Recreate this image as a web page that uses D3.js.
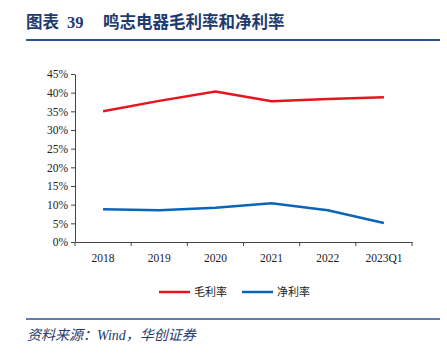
<!DOCTYPE html>
<html>
<head>
<meta charset="utf-8">
<script src="https://cdn.jsdelivr.net/npm/d3@7"></script>
<style>
  body { margin: 0; background: #fff; }
  svg { display: block; }
  .tick text { font-family: "Liberation Serif", "Times New Roman", serif; font-size: 11.5px; fill: #222; }
  .axis path, .axis line { stroke: #444; }
</style>
</head>
<body>
<svg id="chart"></svg>
<script>
const width = 447;
const height = 354;

const years = ['2018', '2019', '2020', '2021', '2022', '2023Q1'];
const grossMargin = [35.0, 37.8, 40.3, 37.7, 38.3, 38.8]; // 毛利率 %
const netMargin = [8.8, 8.5, 9.2, 10.4, 8.5, 5.1];        // 净利率 %
const yTicks = [0, 5, 10, 15, 20, 25, 30, 35, 40, 45];

const svg = d3.select('#chart')
    .attr('width', width)
    .attr('height', height);

// title + rule
const title = svg.append('text')
    .attr('y', 28)
    .attr('fill', '#1f3a6e')
    .style('font-weight', 'bold')
    .style('font-size', '16.5px');
title.append('tspan')
    .attr('x', 26)
    .style('font-family', '"Noto Sans CJK SC", sans-serif')
    .text('图表');
title.append('tspan')
    .attr('x', 67)
    .style('font-family', '"Liberation Serif", serif')
    .text('39');
title.append('tspan')
    .attr('x', 103)
    .style('font-family', '"Noto Sans CJK SC", sans-serif')
    .text('鸣志电器毛利率和净利率');

svg.append('line')
    .attr('x1', 26).attr('x2', 440)
    .attr('y1', 40).attr('y2', 40)
    .attr('stroke', '#2b5390')
    .attr('stroke-width', 2);

const x = d3.scaleBand()
    .domain(years)
    .range([75, 412]);

const y = d3.scaleLinear()
    .domain([0, 45])
    .range([242, 74]);

// y axis
svg.append('g')
    .attr('class', 'axis')
    .attr('transform', 'translate(75,0)')
    .call(d3.axisLeft(y).tickValues(yTicks).tickSize(4).tickSizeOuter(0).tickFormat(d => d + '%'))
    .call(g => g.selectAll('.tick text').attr('x', -7));

// x axis, ticks at band boundaries
const xAxis = svg.append('g')
    .attr('class', 'axis')
    .attr('transform', 'translate(0,242)')
    .call(d3.axisBottom(x).tickSize(0).tickSizeOuter(0))
    .call(g => g.selectAll('.tick text').attr('y', 12));

xAxis.selectAll('.boundary')
    .data(years.map(d => x(d)).concat([x.range()[1]]))
    .join('line')
    .attr('x1', d => d).attr('x2', d => d)
    .attr('y1', 0).attr('y2', 4)
    .attr('stroke', '#444');

const line = d3.line()
    .x((d, i) => x(years[i]) + x.bandwidth() / 2)
    .y(d => y(d));

svg.append('path')
    .datum(grossMargin)
    .attr('fill', 'none')
    .attr('stroke', '#e8141c')
    .attr('stroke-width', 2.5)
    .attr('d', line);

svg.append('path')
    .datum(netMargin)
    .attr('fill', 'none')
    .attr('stroke', '#0a64b8')
    .attr('stroke-width', 2.5)
    .attr('d', line);

// legend
const legendItems = [
    { name: '毛利率', color: '#e8141c', x: 159 },
    { name: '净利率', color: '#0a64b8', x: 242 }
];

const legend = svg.append('g');
legendItems.forEach(item => {
    legend.append('line')
        .attr('x1', item.x).attr('x2', item.x + 31)
        .attr('y1', 292).attr('y2', 292)
        .attr('stroke', item.color)
        .attr('stroke-width', 2.5);
    legend.append('text')
        .attr('x', item.x + 35)
        .attr('y', 296)
        .style('font-family', '"Noto Sans CJK SC", sans-serif')
        .style('font-size', '11px')
        .attr('fill', '#222')
        .text(item.name);
});

// footer
svg.append('line')
    .attr('x1', 26).attr('x2', 440)
    .attr('y1', 319).attr('y2', 319)
    .attr('stroke', '#2b5390')
    .attr('stroke-width', 1.5);

const source = svg.append('text')
    .attr('x', 27)
    .attr('y', 340)
    .attr('fill', '#1f3a6e')
    .style('font-style', 'italic')
    .style('font-size', '14px');
source.append('tspan')
    .style('font-family', '"Noto Sans CJK SC", sans-serif')
    .text('资料来源：');
source.append('tspan')
    .style('font-family', '"Liberation Serif", serif')
    .text('Wind');
source.append('tspan')
    .style('font-family', '"Noto Sans CJK SC", sans-serif')
    .text('，华创证券');
</script>
</body>
</html>
